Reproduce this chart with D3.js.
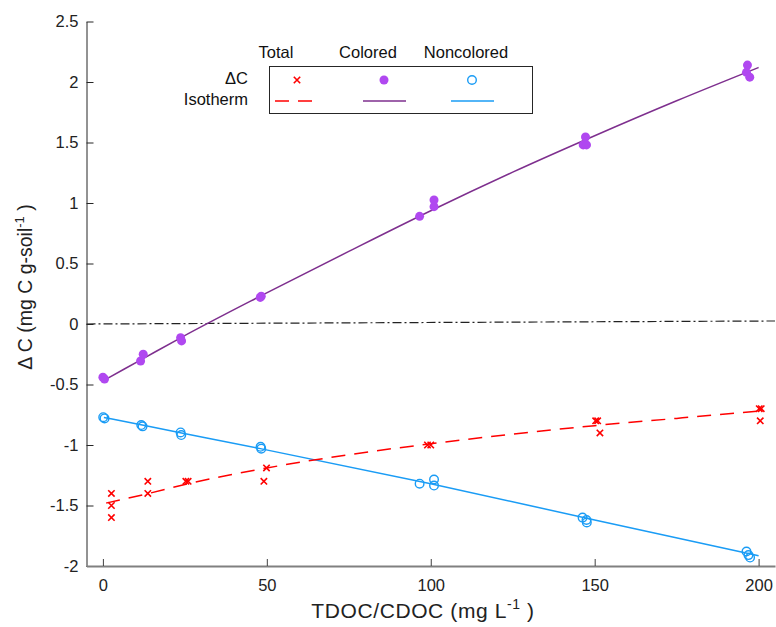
<!DOCTYPE html>
<html>
<head>
<meta charset="utf-8">
<script src="https://cdn.jsdelivr.net/npm/d3@7"></script>
<style>
  html, body { margin: 0; padding: 0; background: #fff; }
  svg { display: block; font-family: "Liberation Sans", Arial, Helvetica, sans-serif; }
</style>
</head>
<body>
<svg id="chart" width="776" height="627"></svg>
<script>
// ---------------- data ----------------
const xTicks = [0, 50, 100, 150, 200];
const yTicks = [-2, -1.5, -1, -0.5, 0, 0.5, 1, 1.5, 2, 2.5];
const yTickLabels = ["-2", "-1.5", "-1", "-0.5", "0", "0.5", "1", "1.5", "2", "2.5"];

// Colored (purple filled circles)
const coloredX = [0, 0.5, 11.5, 12.3, 23.7, 24, 48, 48.3, 96.6, 101, 101, 146.5, 147.2, 147.5, 196.3, 196.6, 197.3];
const coloredY = [-0.44, -0.455, -0.306, -0.25, -0.113, -0.14, 0.22, 0.23, 0.89, 0.97, 1.025, 1.48, 1.545, 1.48, 2.08, 2.14, 2.04];

// Noncolored (blue open circles)
const noncoloredX = [0.1, 0.5, 11.7, 12.1, 23.7, 23.9, 48.1, 48.3, 96.6, 101, 101, 146.3, 147.5, 147.6, 196.3, 196.9, 197.4];
const noncoloredY = [-0.77, -0.78, -0.835, -0.846, -0.896, -0.918, -1.015, -1.03, -1.32, -1.285, -1.335, -1.60, -1.62, -1.64, -1.88, -1.91, -1.93];

// Total (red crosses)
const totalX = [2.6, 2.6, 2.6, 13.7, 13.7, 25.3, 26, 49.1, 49.9, 99, 100, 150.3, 150.9, 151.6, 200.2, 200.8, 200.5];
const totalY = [-1.40, -1.50, -1.60, -1.30, -1.40, -1.30, -1.30, -1.30, -1.19, -1.00, -1.00, -0.80, -0.80, -0.90, -0.70, -0.70, -0.80];

// Isotherm curves
const isoColoredX = [1, 12, 24, 48, 75, 100, 125, 150, 175, 200];
const isoColoredY = [-0.455, -0.29, -0.11, 0.23, 0.60, 0.936, 1.255, 1.556, 1.845, 2.12];
const isoNoncoloredX = [0.3, 12, 24, 48, 100, 150, 200];
const isoNoncoloredY = [-0.772, -0.835, -0.90, -1.03, -1.32, -1.62, -1.915];
const isoTotalX = [1, 14, 26, 50, 75, 100, 125, 150, 175, 200];
const isoTotalY = [-1.48, -1.40, -1.32, -1.19, -1.08, -0.99, -0.91, -0.84, -0.78, -0.72];

// zero reference line
const zeroX = [-5, 205];
const zeroY = [0, 0.025];

const legendCols = ["Total", "Colored", "Noncolored"];
const legendRows = ["\u0394C", "Isotherm"];

// ---------------- colours ----------------
const cRed = "#ff0000";
const cPurpleDot = "#b048f0";
const cPurpleLine = "#7e2f8e";
const cBlue = "#1a9cf5";

// ---------------- chart ----------------
const svg = d3.select("#chart");
const x = d3.scaleLinear().domain([-5, 205]).range([86.5, 775]);
const y = d3.scaleLinear().domain([-2, 2.5]).range([566, 21.5]);

const zip = (xs, ys) => xs.map((v, i) => [v, ys[i]]);
const line = d3.line().x(d => x(d[0])).y(d => y(d[1]));
const curve = d3.line().x(d => x(d[0])).y(d => y(d[1])).curve(d3.curveMonotoneX);

// Axes
const yAxis = d3.axisLeft(y).tickValues(yTicks).tickFormat((d, i) => yTickLabels[i])
  .tickSizeInner(-7).tickSizeOuter(0).tickPadding(8);
const gy = svg.append("g").attr("transform", "translate(86.5,0)").call(yAxis);
gy.select(".domain").attr("stroke", "#262626");
gy.selectAll(".tick line").attr("stroke", "#262626");
gy.selectAll(".tick text").attr("font-size", 16.5).attr("fill", "#222")
  .attr("font-family", "'Liberation Sans', Arial, sans-serif");

const xAxis = d3.axisBottom(x).tickValues(xTicks).tickFormat(d3.format("d"))
  .tickSizeInner(-7).tickSizeOuter(0).tickPadding(13);
const gx = svg.append("g").attr("transform", "translate(0,566)").call(xAxis);
gx.select(".domain").attr("stroke", "#808080").attr("stroke-width", 2);
gx.selectAll(".tick line").attr("stroke", "#404040");
gx.selectAll(".tick text").attr("font-size", 16.5).attr("fill", "#222")
  .attr("font-family", "'Liberation Sans', Arial, sans-serif");

// zero dash-dot line
svg.append("path").datum(zip(zeroX, zeroY)).attr("d", line)
  .attr("fill", "none").attr("stroke", "#222").attr("stroke-width", 1.2)
  .attr("stroke-dasharray", "9,3,2,3");

// Isotherm lines
svg.append("path").datum(zip(isoColoredX, isoColoredY)).attr("d", curve)
  .attr("fill", "none").attr("stroke", cPurpleLine).attr("stroke-width", 1.5);
svg.append("path").datum(zip(isoNoncoloredX, isoNoncoloredY)).attr("d", curve)
  .attr("fill", "none").attr("stroke", cBlue).attr("stroke-width", 1.5);
svg.append("path").datum(zip(isoTotalX, isoTotalY)).attr("d", curve)
  .attr("fill", "none").attr("stroke", cRed).attr("stroke-width", 1.5)
  .attr("stroke-dasharray", "14,9");

// Markers
svg.append("g").selectAll("circle").data(zip(coloredX, coloredY)).join("circle")
  .attr("cx", d => x(d[0])).attr("cy", d => y(d[1])).attr("r", 4.5)
  .attr("fill", cPurpleDot);
svg.append("g").selectAll("circle").data(zip(noncoloredX, noncoloredY)).join("circle")
  .attr("cx", d => x(d[0])).attr("cy", d => y(d[1])).attr("r", 4.3)
  .attr("fill", "none").attr("stroke", cBlue).attr("stroke-width", 1.4);
const cross = (g, cx, cy, s) => g.append("path")
  .attr("d", `M${cx - s},${cy - s}L${cx + s},${cy + s}M${cx - s},${cy + s}L${cx + s},${cy - s}`)
  .attr("stroke", cRed).attr("stroke-width", 1.6).attr("fill", "none");
const gt = svg.append("g");
zip(totalX, totalY).forEach(d => cross(gt, x(d[0]), y(d[1]), 3.2));

// Axis labels
const xl = svg.append("text").attr("x", 423).attr("y", 618).attr("text-anchor", "middle")
  .attr("font-size", 21).attr("letter-spacing", 0.6).attr("fill", "#222");
xl.append("tspan").text("TDOC/CDOC (mg L");
xl.append("tspan").attr("font-size", 14).attr("dy", -9).text("-1");
xl.append("tspan").attr("dy", 9).text(" )");

const yl = svg.append("text").attr("transform", "translate(32,287) rotate(-90)")
  .attr("text-anchor", "middle").attr("font-size", 19.5).attr("fill", "#222");
yl.append("tspan").text("\u0394 C (mg C g-soil");
yl.append("tspan").attr("font-size", 13).attr("dy", -8).text("-1");
yl.append("tspan").attr("dy", 8).text(" )");

// Legend
const lg = svg.append("g");
lg.append("rect").attr("x", 269.5).attr("y", 66.5).attr("width", 263).attr("height", 47)
  .attr("fill", "#fff").attr("stroke", "#262626").attr("stroke-width", 1);
const colCx = [276, 368, 466];
legendCols.forEach((t, i) => lg.append("text").attr("x", colCx[i]).attr("y", 58)
  .attr("text-anchor", "middle").attr("font-size", 16.5).attr("fill", "#111").text(t));
const rowY = [84, 105];
legendRows.forEach((t, i) => lg.append("text").attr("x", 248).attr("y", rowY[i])
  .attr("text-anchor", "end").attr("font-size", 16.5).attr("fill", "#111").text(t));
cross(lg, 297, 80, 3.2);
lg.append("circle").attr("cx", 384).attr("cy", 80).attr("r", 4.5).attr("fill", cPurpleDot);
lg.append("circle").attr("cx", 472).attr("cy", 80).attr("r", 4.3).attr("fill", "none")
  .attr("stroke", cBlue).attr("stroke-width", 1.4);
lg.append("line").attr("x1", 275).attr("x2", 313).attr("y1", 101).attr("y2", 101)
  .attr("stroke", cRed).attr("stroke-width", 1.5).attr("stroke-dasharray", "14,9");
lg.append("line").attr("x1", 363).attr("x2", 406).attr("y1", 101).attr("y2", 101)
  .attr("stroke", cPurpleLine).attr("stroke-width", 1.5);
lg.append("line").attr("x1", 451).attr("x2", 494).attr("y1", 101).attr("y2", 101)
  .attr("stroke", cBlue).attr("stroke-width", 1.5);
</script>
</body>
</html>
